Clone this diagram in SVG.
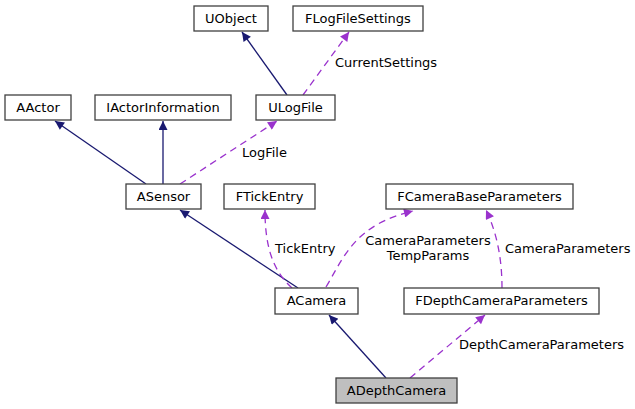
<svg xmlns="http://www.w3.org/2000/svg" width="635" height="409" viewBox="0 0 635 409">
<style>
.n rect{fill:#fff;stroke:#404040;stroke-width:1.3}
.n text,.l{font-family:"DejaVu Sans",sans-serif;font-size:13px;fill:#000}
.n text{text-anchor:middle}
.s{fill:none;stroke:#191970;stroke-width:1.3}
.d{fill:none;stroke:#9a32cd;stroke-width:1.3;stroke-dasharray:7,5}
</style>
<defs>
<marker id="as" viewBox="0 0 10 10" refX="10" refY="5" markerWidth="11" markerHeight="9" markerUnits="userSpaceOnUse" orient="auto"><path d="M0,0L10,5L0,10z" fill="#191970"/></marker>
<marker id="ad" viewBox="0 0 10 10" refX="10" refY="5" markerWidth="11" markerHeight="9" markerUnits="userSpaceOnUse" orient="auto"><path d="M0,0L10,5L0,10z" fill="#9a32cd"/></marker>
</defs>
<rect width="635" height="409" fill="#fff"/>
<g id="edges">
<path class="s" d="M287,95L242,32" marker-end="url(#as)"/>
<path class="d" d="M303,95L349,32" marker-end="url(#ad)"/>
<path class="s" d="M146,184L55,121" marker-end="url(#as)"/>
<path class="s" d="M163,184L163,121" marker-end="url(#as)"/>
<path class="d" d="M180,184L277,121" marker-end="url(#ad)"/>
<path class="s" d="M298,288L180,210" marker-end="url(#as)"/>
<path class="d" d="M292,288C272,270 265,245 265,210" marker-end="url(#ad)"/>
<path class="d" d="M326,287C345,255 355,225 413,211" marker-end="url(#ad)"/>
<path class="d" d="M502,288C502,262 498,235 486,210" marker-end="url(#ad)"/>
<path class="s" d="M386,378L329,315" marker-end="url(#as)"/>
<path class="d" d="M410,378L485,315" marker-end="url(#ad)"/>
<text class="l" x="335" y="67">CurrentSettings</text>
<text class="l" x="242" y="157">LogFile</text>
<text class="l" x="275" y="253">TickEntry</text>
<text class="l" x="428" y="245" text-anchor="middle">CameraParameters</text>
<text class="l" x="428" y="260" text-anchor="middle">TempParams</text>
<text class="l" x="505" y="253">CameraParameters</text>
<text class="l" x="459" y="349">DepthCameraParameters</text>
</g>
<g id="UObject" class="n"><rect x="194" y="6" width="74" height="25"/><text x="231" y="23">UObject</text></g>
<g id="FLogFileSettings" class="n"><rect x="293" y="6" width="130" height="25"/><text x="358" y="23">FLogFileSettings</text></g>
<g id="AActor" class="n"><rect x="5" y="95" width="66" height="25"/><text x="38" y="112">AActor</text></g>
<g id="IActorInformation" class="n"><rect x="95" y="95" width="136" height="25"/><text x="163" y="112">IActorInformation</text></g>
<g id="ULogFile" class="n"><rect x="256" y="95" width="79" height="25"/><text x="295.5" y="112">ULogFile</text></g>
<g id="ASensor" class="n"><rect x="126" y="184" width="75" height="25"/><text x="163.5" y="201">ASensor</text></g>
<g id="FTickEntry" class="n"><rect x="224" y="184" width="91" height="25"/><text x="269.5" y="201">FTickEntry</text></g>
<g id="FCameraBaseParameters" class="n"><rect x="386" y="184" width="187" height="25"/><text x="479.5" y="201">FCameraBaseParameters</text></g>
<g id="ACamera" class="n"><rect x="275" y="288" width="83" height="26"/><text x="316.5" y="305">ACamera</text></g>
<g id="FDepthCameraParameters" class="n"><rect x="404" y="288" width="195" height="26"/><text x="501.5" y="305">FDepthCameraParameters</text></g>
<g id="ADepthCamera" class="n"><rect x="336" y="378" width="121" height="25" style="fill:#bfbfbf"/><text x="396.5" y="395">ADepthCamera</text></g>
</svg>
